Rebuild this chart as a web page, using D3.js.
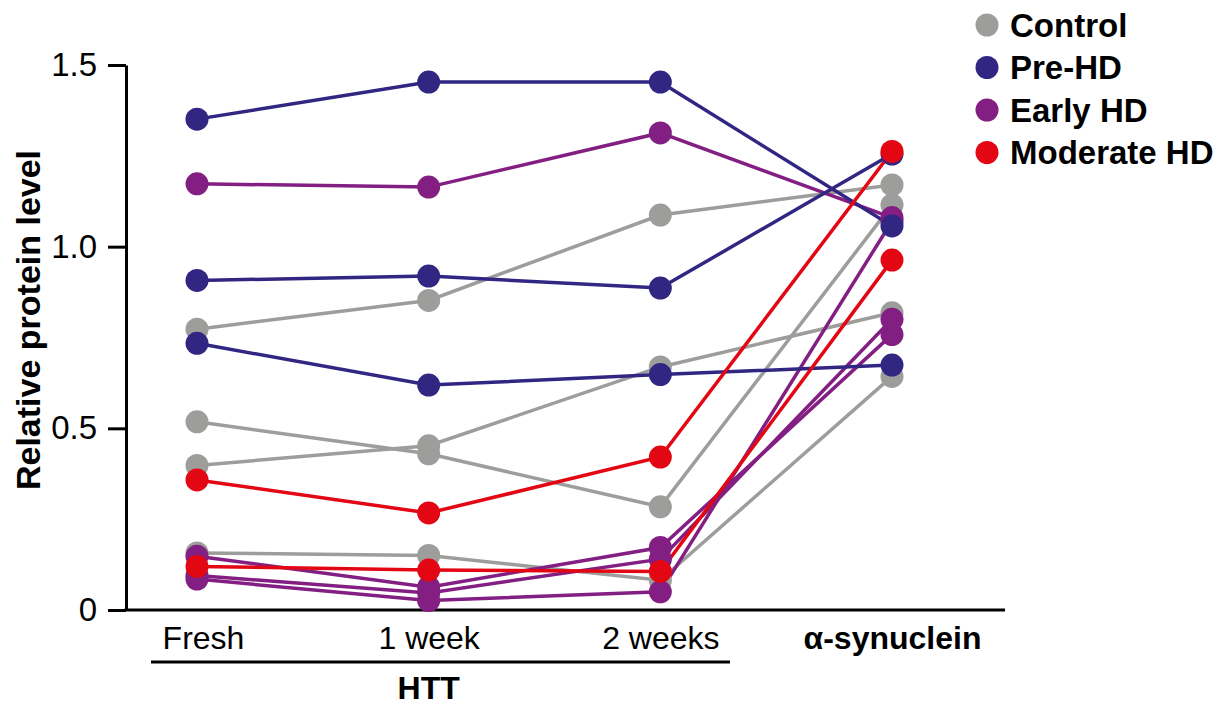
<!DOCTYPE html>
<html>
<head>
<meta charset="utf-8">
<script src="https://cdn.jsdelivr.net/npm/d3@7"></script>
<style>
  body { margin: 0; background: #fff; }
  svg text { font-family: "Liberation Sans", Arial, Helvetica, sans-serif; fill: #000; }
</style>
</head>
<body>
<div id="chart"></div>
<script>
// categories along x
var timepoints = ["Fresh", "1 week", "2 weeks", "α-synuclein"];
var yTicks = [0, 0.5, 1.0, 1.5];

// one row per subject: Fresh, 1 week, 2 weeks, α-synuclein
var controlValues = [
  [0.773, 0.852, 1.087, 1.170],
  [0.518, 0.430, 0.284, 1.115],
  [0.398, 0.452, 0.669, 0.818],
  [0.157, 0.150, 0.082, 0.643]
];
var preHDValues = [
  [1.351, 1.453, 1.453, 1.057],
  [0.907, 0.919, 0.886, 1.255],
  [0.734, 0.619, 0.648, 0.674]
];
var earlyHDValues = [
  [1.173, 1.164, 1.313, 1.080],
  [0.148, 0.063, 0.172, 0.758],
  [0.095, 0.047, 0.140, 0.800],
  [0.085, 0.026, 0.050, 1.070]
];
var moderateHDValues = [
  [0.358, 0.267, 0.421, 1.262],
  [0.120, 0.110, 0.106, 0.963]
];

var groupNames = ["Control", "Pre-HD", "Early HD", "Moderate HD"];
var groupColors = ["#9d9d9c", "#312783", "#831f82", "#e30613"];
var groupValues = [controlValues, preHDValues, earlyHDValues, moderateHDValues];
// paint order seen in the figure: grey under, red on top
var drawOrder = [0, 2, 1, 3];

var width = 1225, height = 707;

var svg = d3.select("#chart").append("svg")
  .attr("width", width)
  .attr("height", height);

var x = d3.scalePoint().domain(timepoints).range([197, 892]);
var y = d3.scaleLinear().domain([0, 1.5]).range([610, 65]);

// y axis
var yAxis = svg.append("g")
  .attr("transform", "translate(126,0)")
  .call(d3.axisLeft(y).tickValues(yTicks).tickSize(18).tickSizeOuter(0).tickPadding(11)
    .tickFormat(function(d){ return d === 0 ? "0" : d3.format(".1f")(d); }));
yAxis.select(".domain").attr("stroke", "#000").attr("stroke-width", 3);
yAxis.selectAll(".tick line").attr("stroke", "#000").attr("stroke-width", 3);
yAxis.selectAll(".tick text").attr("font-size", 33).style("font-family", "'Liberation Sans', Arial, sans-serif");

// baseline
svg.append("line")
  .attr("x1", 124.5).attr("x2", 1005)
  .attr("y1", y(0)).attr("y2", y(0))
  .attr("stroke", "#000").attr("stroke-width", 3);

// category labels
var xAxis = svg.append("g")
  .attr("transform", "translate(0," + y(0) + ")")
  .call(d3.axisBottom(x).tickSize(0).tickPadding(16));
xAxis.select(".domain").remove();
xAxis.selectAll(".tick text")
  .attr("font-size", 32)
  .style("font-family", "'Liberation Sans', Arial, sans-serif")
  .attr("font-weight", function(d){ return d === "α-synuclein" ? "bold" : "normal"; })
  .attr("dx", function(d){ return d === "Fresh" ? 6 : 0; }); // Fresh label sits a bit right of its dots

// HTT bracket
svg.append("line")
  .attr("x1", 151).attr("x2", 730)
  .attr("y1", 662).attr("y2", 662)
  .attr("stroke", "#000").attr("stroke-width", 3);
svg.append("text")
  .attr("x", x("1 week")).attr("y", 699)
  .attr("text-anchor", "middle")
  .attr("font-size", 32).attr("font-weight", "bold")
  .text("HTT");

// y title
svg.append("text")
  .attr("transform", "translate(40,320) rotate(-90)")
  .attr("text-anchor", "middle")
  .attr("font-size", 34).attr("font-weight", "bold")
  .text("Relative protein level");

var line = d3.line()
  .x(function(d, i){ return x(timepoints[i]); })
  .y(function(d){ return y(d); });

// lines first, then dots
drawOrder.forEach(function(g){
  svg.append("g").selectAll("path")
    .data(groupValues[g])
    .enter().append("path")
    .attr("d", line)
    .attr("fill", "none")
    .attr("stroke", groupColors[g])
    .attr("stroke-width", 3.5);
});

drawOrder.forEach(function(g){
  var dots = svg.append("g");
  groupValues[g].forEach(function(row){
    dots.selectAll(null)
      .data(row)
      .enter().append("circle")
      .attr("cx", function(d, i){ return x(timepoints[i]); })
      .attr("cy", function(d){ return y(d); })
      .attr("r", 11.5)
      .attr("fill", groupColors[g]);
  });
});

// legend
var legend = svg.append("g").selectAll("g")
  .data(groupNames)
  .enter().append("g")
  .attr("transform", function(d, i){ return "translate(987," + (25 + i * 42.5) + ")"; });
legend.append("circle")
  .attr("r", 11.5)
  .attr("fill", function(d, i){ return groupColors[i]; });
legend.append("text")
  .attr("x", 23).attr("dy", "0.36em")
  .attr("font-size", 33).attr("font-weight", "bold")
  .text(function(d){ return d; });
</script>
</body>
</html>
